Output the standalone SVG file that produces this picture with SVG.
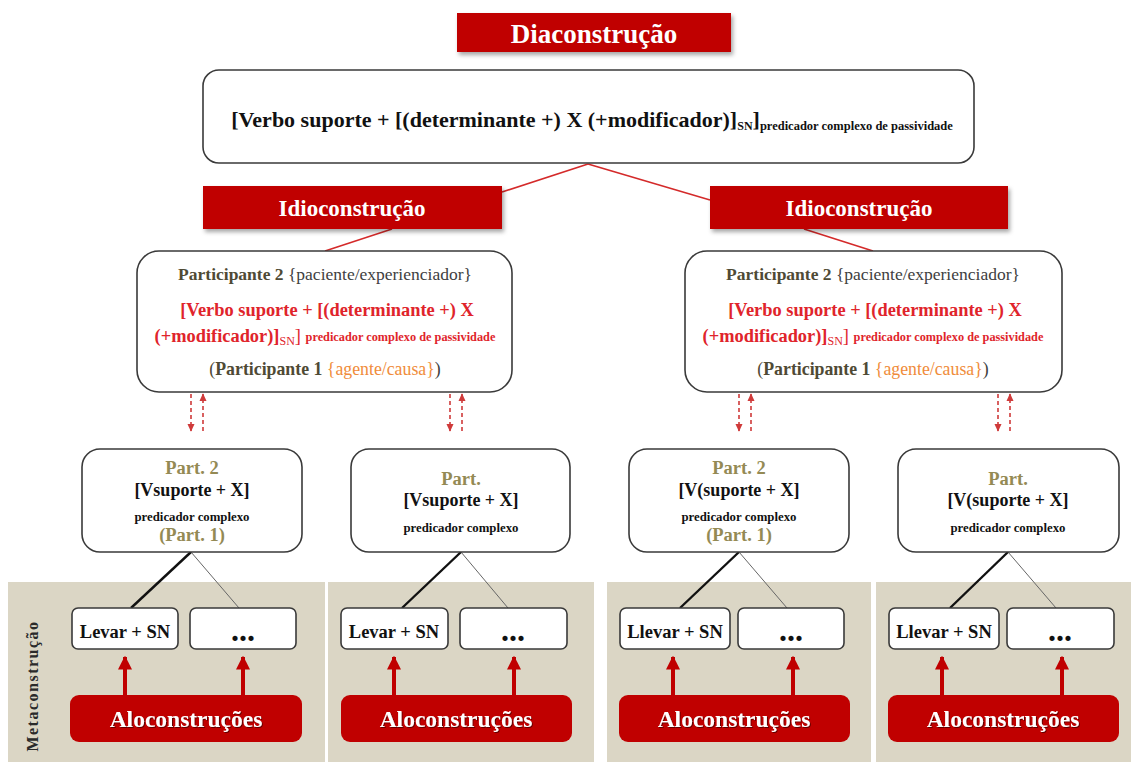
<svg xmlns="http://www.w3.org/2000/svg" width="1131" height="762" viewBox="0 0 1131 762">
<defs>
<filter id="sh" x="-10%" y="-20%" width="125%" height="160%">
<feDropShadow dx="2" dy="3" stdDeviation="2" flood-color="#000" flood-opacity="0.35"/>
</filter>
<filter id="tsh" x="-10%" y="-20%" width="125%" height="160%">
<feDropShadow dx="1" dy="1" stdDeviation="0.6" flood-color="#000" flood-opacity="0.5"/>
</filter>
<marker id="dh" viewBox="0 0 10 10" refX="9" refY="5" markerWidth="8" markerHeight="8" orient="auto" markerUnits="userSpaceOnUse">
<path d="M0,0.5 L10,5 L0,9.5 Z" fill="#cf3a3a"/>
</marker>
<marker id="rh" viewBox="0 0 10 10" refX="9" refY="5" markerWidth="14" markerHeight="14" orient="auto" markerUnits="userSpaceOnUse">
<path d="M0,0 L10,5 L0,10 Z" fill="#c00000"/>
</marker>
<style>
text{font-family:"Liberation Serif","Times New Roman",serif;}
.redbox{fill:#c00000;}
.wt{fill:#fff;font-weight:bold;text-anchor:middle;}
.box{fill:#fff;stroke:#3a3a3a;stroke-width:1.6;}
.panel{fill:#dbd6c5;}
.b{font-weight:bold;}
.c{text-anchor:middle;}
.olive{fill:#948a54;font-weight:bold;}
.dark{fill:#4f4a35;}
.red{fill:#e0242b;font-weight:bold;}
.or{fill:#f08c3a;}
.redline{stroke:#d42a2a;stroke-width:1.6;fill:none;}
.dash{stroke:#cf3a3a;stroke-width:1.6;stroke-dasharray:4 3;fill:none;marker-end:url(#dh);}
.rarrow{stroke:#c00000;stroke-width:4;fill:none;marker-end:url(#rh);}
.thick{stroke:#111;stroke-width:2.4;}
.thin{stroke:#666;stroke-width:1;}
</style>
</defs>
<rect width="1131" height="762" fill="#fff"/>
<g id="panels">
<rect class="panel" x="8" y="582" width="317" height="180"/>
<rect class="panel" x="328" y="582" width="266" height="180"/>
<rect class="panel" x="607" y="582" width="264" height="180"/>
<rect class="panel" x="876" y="582" width="255" height="180"/>
<text class="b" transform="translate(38,686) rotate(-90)" text-anchor="middle" font-size="16" fill="#2a2a2a" letter-spacing="1.5">Metaconstrução</text>
</g>
<g id="connectors">
<line class="redline" x1="588" y1="164" x2="502" y2="192"/>
<line class="redline" x1="588" y1="164" x2="710" y2="200"/>
<line class="redline" x1="392" y1="229" x2="325" y2="251"/>
<line class="redline" x1="804" y1="229" x2="873" y2="251"/>
<line class="dash" x1="191" y1="394" x2="191" y2="431"/>
<line class="dash" x1="203" y1="431" x2="203" y2="394"/>
<line class="dash" x1="450" y1="394" x2="450" y2="431"/>
<line class="dash" x1="462" y1="431" x2="462" y2="394"/>
<line class="dash" x1="739" y1="394" x2="739" y2="431"/>
<line class="dash" x1="751" y1="431" x2="751" y2="394"/>
<line class="dash" x1="998" y1="394" x2="998" y2="431"/>
<line class="dash" x1="1010" y1="431" x2="1010" y2="394"/>
<line class="thick" x1="191" y1="552" x2="131" y2="608"/>
<line class="thin" x1="191" y1="552" x2="239" y2="608"/>
<line class="thick" x1="461" y1="552" x2="402" y2="608"/>
<line class="thin" x1="461" y1="552" x2="508" y2="608"/>
<line class="thick" x1="739" y1="552" x2="680" y2="608"/>
<line class="thin" x1="739" y1="552" x2="787" y2="608"/>
<line class="thick" x1="1008" y1="552" x2="950" y2="608"/>
<line class="thin" x1="1008" y1="552" x2="1056" y2="608"/>
<line class="rarrow" x1="125" y1="696" x2="125" y2="657"/>
<line class="rarrow" x1="243" y1="696" x2="243" y2="657"/>
<line class="rarrow" x1="394" y1="696" x2="394" y2="657"/>
<line class="rarrow" x1="514" y1="696" x2="514" y2="657"/>
<line class="rarrow" x1="673" y1="696" x2="673" y2="657"/>
<line class="rarrow" x1="793" y1="696" x2="793" y2="657"/>
<line class="rarrow" x1="942" y1="696" x2="942" y2="657"/>
<line class="rarrow" x1="1062" y1="696" x2="1062" y2="657"/>
</g>
<g id="dia">
<rect class="redbox" x="457" y="13" width="274" height="39" filter="url(#sh)"/>
<text class="wt" x="594" y="43" font-size="27">Diaconstrução</text>
</g>
<g id="top">
<rect class="box" x="203" y="70" width="771" height="93" rx="16"/>
<text class="b" x="592" y="127" text-anchor="middle" font-size="22" fill="#111">[Verbo suporte + [(determinante +) X (+modificador)]<tspan font-size="12" dy="3">SN</tspan><tspan dy="-3">]</tspan><tspan font-size="12.5" dy="3">predicador complexo de passividade</tspan></text>
</g>
<g id="idio-left">
<rect class="redbox" x="203" y="186" width="299" height="43" filter="url(#sh)"/>
<text class="wt" x="352" y="216" font-size="23">Idioconstrução</text>
</g>
<g id="idio-right">
<rect class="redbox" x="710" y="186" width="298" height="43" filter="url(#sh)"/>
<text class="wt" x="859" y="216" font-size="23">Idioconstrução</text>
</g>
<g id="part-left">
<rect class="box" x="137" y="251" width="375" height="141" rx="22"/>
<text x="325" y="280" class="c" font-size="17.5"><tspan class="b dark">Participante 2</tspan><tspan fill="#404040"> {paciente/experienciador}</tspan></text>
<text x="327" y="316" class="c red" font-size="18.4">[Verbo  suporte + [(determinante +) X</text>
<text x="325" y="342" class="c" font-size="18.4" fill="#e0242b"><tspan class="b">(+modificador)]</tspan><tspan font-size="12" dy="3">SN</tspan><tspan dy="-3">] </tspan><tspan class="b" font-size="12.3" dy="-1">predicador complexo de passividade</tspan></text>
<text x="325" y="375" class="c" font-size="17.8"><tspan fill="#4f4a35">(</tspan><tspan class="b dark">Participante 1 </tspan><tspan class="or">{agente/causa}</tspan><tspan fill="#404040">)</tspan></text>
</g>
<g id="part-right">
<rect class="box" x="685" y="251" width="377" height="141" rx="22"/>
<text x="873" y="280" class="c" font-size="17.5"><tspan class="b dark">Participante 2</tspan><tspan fill="#404040"> {paciente/experienciador}</tspan></text>
<text x="875" y="316" class="c red" font-size="18.4">[Verbo  suporte + [(determinante +) X</text>
<text x="873" y="342" class="c" font-size="18.4" fill="#e0242b"><tspan class="b">(+modificador)]</tspan><tspan font-size="12" dy="3">SN</tspan><tspan dy="-3">] </tspan><tspan class="b" font-size="12.3" dy="-1">predicador complexo de passividade</tspan></text>
<text x="873" y="375" class="c" font-size="17.8"><tspan fill="#4f4a35">(</tspan><tspan class="b dark">Participante 1 </tspan><tspan class="or">{agente/causa}</tspan><tspan fill="#404040">)</tspan></text>
</g>
<g id="pred-a">
<rect class="box" x="82" y="449" width="220" height="103" rx="18"/>
<text x="192" y="474" class="c olive" font-size="18.5">Part. 2</text>
<text x="192" y="496" class="c b" font-size="18" fill="#111">[Vsuporte + X]</text>
<text x="192" y="521" class="c b" font-size="12.8" fill="#111">predicador complexo</text>
<text x="192" y="541" class="c olive" font-size="18.5">(Part. 1)</text>
</g>
<g id="pred-b">
<rect class="box" x="351" y="449" width="219" height="103" rx="18"/>
<text x="461" y="485" class="c olive" font-size="18.5">Part.</text>
<text x="461" y="506" class="c b" font-size="18" fill="#111">[Vsuporte + X]</text>
<text x="461" y="532" class="c b" font-size="12.8" fill="#111">predicador complexo</text>
</g>
<g id="pred-c">
<rect class="box" x="629" y="449" width="220" height="103" rx="18"/>
<text x="739" y="474" class="c olive" font-size="18.5">Part. 2</text>
<text x="739" y="496" class="c b" font-size="18" fill="#111">[V(suporte + X]</text>
<text x="739" y="521" class="c b" font-size="12.8" fill="#111">predicador complexo</text>
<text x="739" y="541" class="c olive" font-size="18.5">(Part. 1)</text>
</g>
<g id="pred-d">
<rect class="box" x="898" y="449" width="221" height="103" rx="18"/>
<text x="1008" y="485" class="c olive" font-size="18.5">Part.</text>
<text x="1008" y="506" class="c b" font-size="18" fill="#111">[V(suporte + X]</text>
<text x="1008" y="532" class="c b" font-size="12.8" fill="#111">predicador complexo</text>
</g>
<g id="small-1a"><rect class="box" x="72" y="608" width="106" height="41" rx="6"/><text x="125" y="638" class="c b" font-size="18.5" fill="#111">Levar +  SN</text></g>
<g id="small-1b"><rect class="box" x="190" y="608" width="106" height="41" rx="6"/><text x="243" y="641" class="c b" font-size="32" fill="#111">...</text></g>
<g id="small-2a"><rect class="box" x="341" y="608" width="107" height="41" rx="6"/><text x="394" y="638" class="c b" font-size="18.5" fill="#111">Levar +  SN</text></g>
<g id="small-2b"><rect class="box" x="460" y="608" width="107" height="41" rx="6"/><text x="513" y="641" class="c b" font-size="32" fill="#111">...</text></g>
<g id="small-3a"><rect class="box" x="620" y="608" width="110" height="41" rx="6"/><text x="675" y="638" class="c b" font-size="18.5" fill="#111">Llevar +  SN</text></g>
<g id="small-3b"><rect class="box" x="738" y="608" width="106" height="41" rx="6"/><text x="791" y="641" class="c b" font-size="32" fill="#111">...</text></g>
<g id="small-4a"><rect class="box" x="889" y="608" width="110" height="41" rx="6"/><text x="944" y="638" class="c b" font-size="18.5" fill="#111">Llevar +  SN</text></g>
<g id="small-4b"><rect class="box" x="1007" y="608" width="107" height="41" rx="6"/><text x="1060" y="641" class="c b" font-size="32" fill="#111">...</text></g>
<g id="alo-1"><rect class="redbox" x="70" y="695" width="232" height="47" rx="9"/><text class="wt" x="186" y="727" font-size="23.5" filter="url(#tsh)">Aloconstruções</text></g>
<g id="alo-2"><rect class="redbox" x="341" y="695" width="231" height="47" rx="9"/><text class="wt" x="456" y="727" font-size="23.5" filter="url(#tsh)">Aloconstruções</text></g>
<g id="alo-3"><rect class="redbox" x="619" y="695" width="231" height="47" rx="9"/><text class="wt" x="734" y="727" font-size="23.5" filter="url(#tsh)">Aloconstruções</text></g>
<g id="alo-4"><rect class="redbox" x="888" y="695" width="231" height="47" rx="9"/><text class="wt" x="1003" y="727" font-size="23.5" filter="url(#tsh)">Aloconstruções</text></g>
</svg>
